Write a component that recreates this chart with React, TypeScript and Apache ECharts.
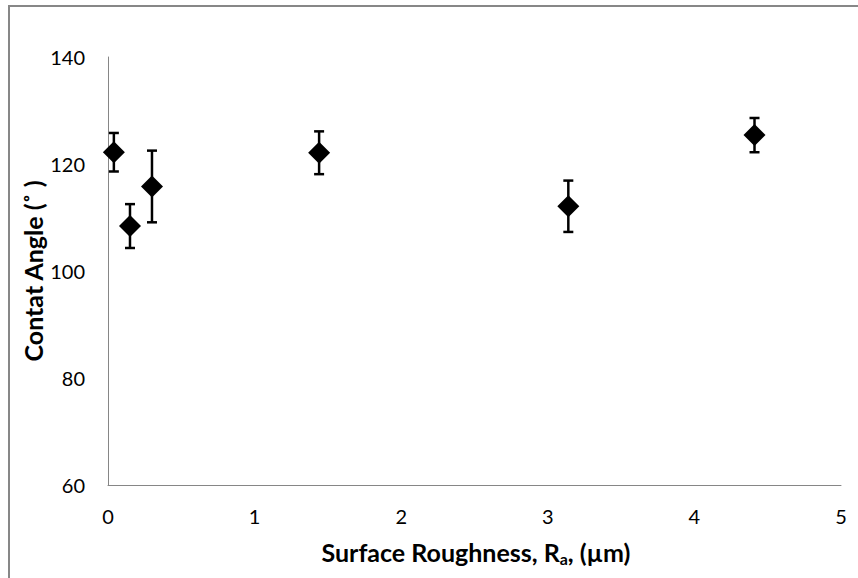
import React, { useEffect, useRef } from "react";
import * as echarts from "echarts";

// Surface roughness Ra (µm) of each sample
const roughness = [0.04, 0.15, 0.3, 1.44, 3.14, 4.41];
// Mean contact angle (degrees)
const contactAngle = [122.2, 108.4, 115.8, 122.1, 112.1, 125.4];
// Standard deviation of the contact angle (degrees)
const angleError = [3.6, 4.1, 6.7, 4.0, 4.8, 3.2];

const xTicks = [0, 1, 2, 3, 4, 5];
const yTicks = [60, 80, 100, 120, 140];

const FONT = "Lato, 'Open Sans', sans-serif";

export default function App() {
  const ref = useRef<HTMLDivElement>(null);

  useEffect(() => {
    if (!ref.current) return;
    const chart = echarts.init(ref.current, null, { renderer: "svg" });

    const points = roughness.map((x, i) => [x, contactAngle[i]]);
    const bars = roughness.map((x, i) => [
      x,
      contactAngle[i] - angleError[i],
      contactAngle[i] + angleError[i],
    ]);

    chart.setOption({
      animation: false,
      backgroundColor: "#ffffff",
      grid: { left: 108, top: 57, right: 17, bottom: 93 },
      xAxis: {
        type: "value",
        min: xTicks[0],
        max: xTicks[xTicks.length - 1],
        interval: 1,
        splitLine: { show: false },
        axisTick: { show: false },
        axisLine: { show: true, lineStyle: { color: "#868686", width: 1 } },
        axisLabel: {
          margin: 21,
          fontFamily: FONT,
          fontSize: 20,
          color: "#000",
        },
      },
      yAxis: {
        type: "value",
        min: yTicks[0],
        max: yTicks[yTicks.length - 1],
        interval: 20,
        splitLine: { show: false },
        axisTick: { show: false },
        axisLine: { show: true, lineStyle: { color: "#868686", width: 1 } },
        axisLabel: {
          margin: 23,
          fontFamily: FONT,
          fontSize: 20,
          color: "#000",
        },
      },
      graphic: [
        {
          type: "rect",
          silent: true,
          shape: { x: 9, y: 6, width: 900, height: 700 },
          style: { fill: "none", stroke: "#878787", lineWidth: 2 },
          z: 100,
        },
        {
          type: "text",
          x: 476,
          y: 552,
          style: {
            text: "Surface Roughness, R{sub|a}, (µm)",
            fontFamily: FONT,
            fontSize: 25,
            fontWeight: "bold",
            fill: "#000",
            align: "center",
            verticalAlign: "middle",
            rich: {
              sub: {
                fontFamily: FONT,
                fontSize: 16,
                fontWeight: "bold",
                fill: "#000",
                padding: [12, 0, 0, 0],
              },
            },
          },
        },
        {
          type: "text",
          x: 33,
          y: 271,
          rotation: Math.PI / 2,
          style: {
            text: "Contat Angle (˚ )",
            fontFamily: FONT,
            fontSize: 25,
            fontWeight: "bold",
            fill: "#000",
            align: "center",
            verticalAlign: "middle",
          },
        },
      ],
      series: [
        {
          type: "custom",
          data: bars,
          z: 2,
          renderItem: (params: any, api: any) => {
            const x = api.value(0);
            const lo = api.coord([x, api.value(1)]);
            const hi = api.coord([x, api.value(2)]);
            const cap = 5;
            const style = { stroke: "#000", lineWidth: 2.5 };
            return {
              type: "group",
              children: [
                { type: "line", shape: { x1: lo[0], y1: lo[1], x2: hi[0], y2: hi[1] }, style },
                { type: "line", shape: { x1: lo[0] - cap, y1: lo[1], x2: lo[0] + cap, y2: lo[1] }, style },
                { type: "line", shape: { x1: hi[0] - cap, y1: hi[1], x2: hi[0] + cap, y2: hi[1] }, style },
              ],
            };
          },
        },
        {
          type: "scatter",
          data: points,
          symbol: "diamond",
          symbolSize: 22,
          z: 3,
          itemStyle: { color: "#000", opacity: 1 },
        },
      ],
    });

    return () => chart.dispose();
  }, []);

  return <div ref={ref} style={{ width: 858, height: 578, position: "absolute", left: 0, top: 0 }} />;
}
